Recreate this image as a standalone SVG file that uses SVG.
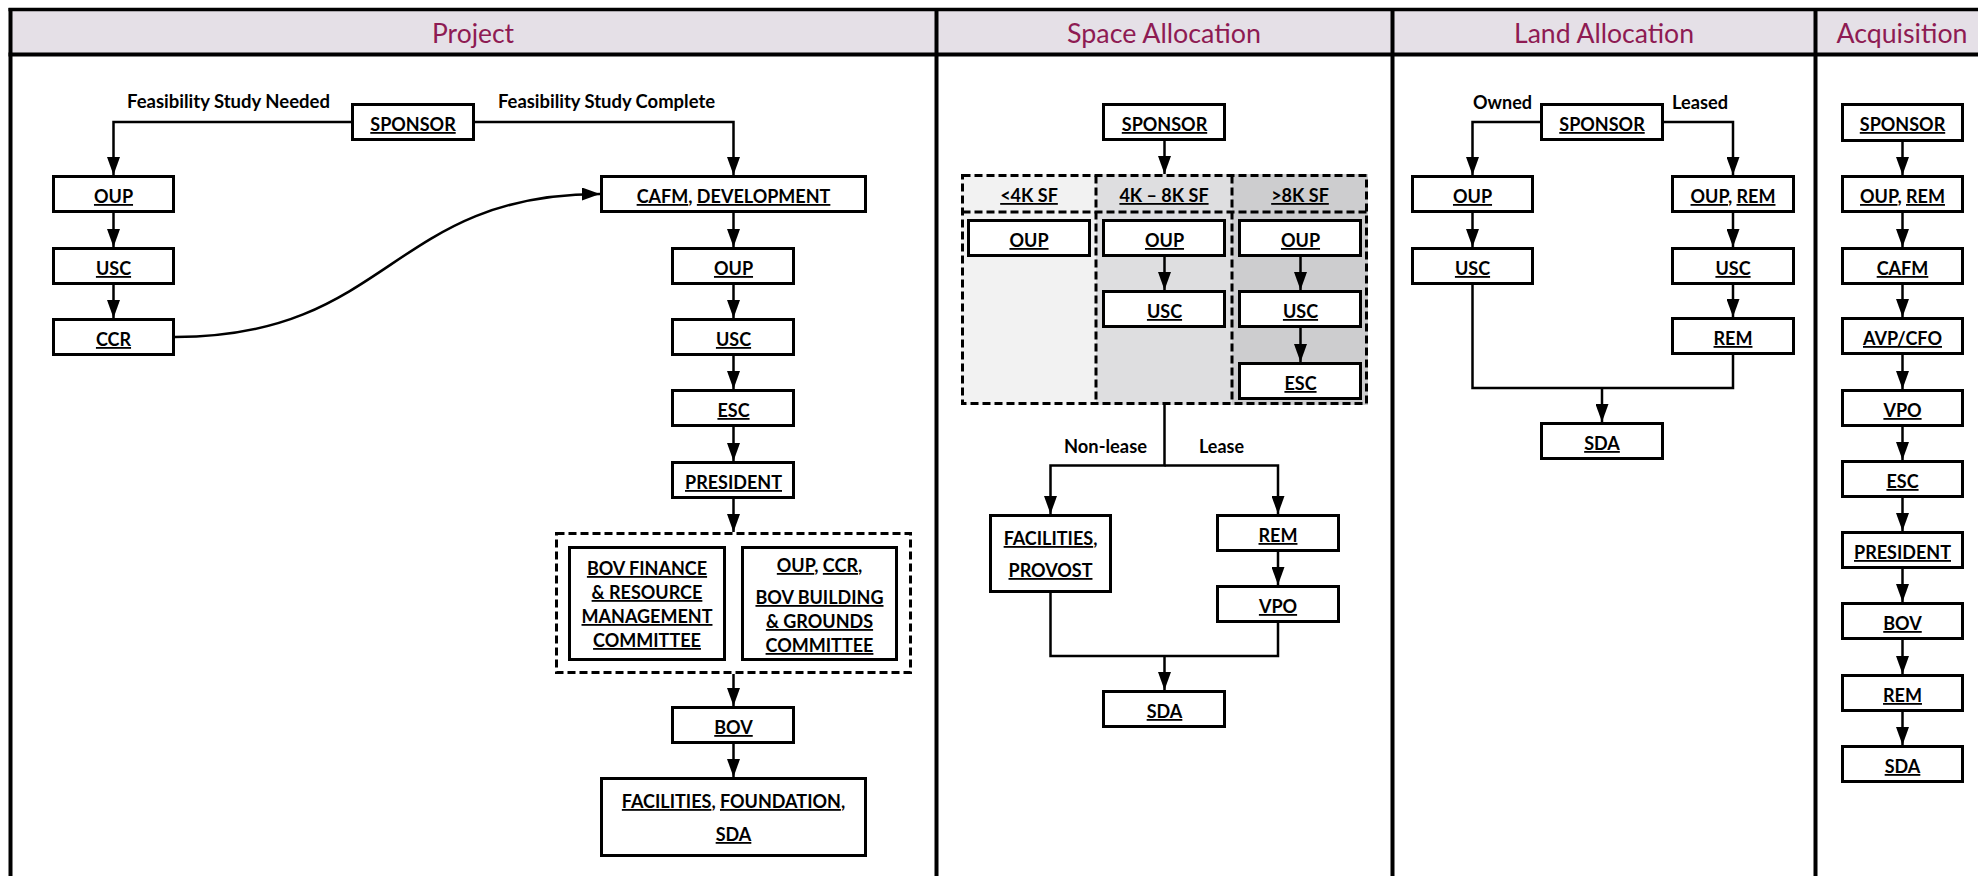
<svg xmlns="http://www.w3.org/2000/svg" width="1978" height="876" viewBox="0 0 1978 876">
<style>
.bg{fill:#fff}
.hdr{fill:#E5E0E7}
.frame{stroke:#000;stroke-width:4;fill:none}
.box{fill:#fff;stroke:#000;stroke-width:3}
.dash{fill:none;stroke:#000;stroke-width:3;stroke-dasharray:8 4}
.c{fill:none;stroke:#000;stroke-width:2.5}
.t{font-family:Lato,'Liberation Sans',sans-serif;font-weight:700;font-size:18px;text-anchor:middle;fill:#000}
.u{text-decoration:underline}
.lbl{font-family:Lato,'Liberation Sans',sans-serif;font-weight:700;font-size:18px;text-anchor:middle;fill:#000}
.ttl{font-family:Lato,'Liberation Sans',sans-serif;font-size:26px;text-anchor:middle;fill:#8E1B53}
</style>
<defs>
<marker id="ah" viewBox="0 0 18 13" refX="18" refY="6.5" markerWidth="18" markerHeight="13" markerUnits="userSpaceOnUse" orient="auto">
<path d="M0,0 L18,6.5 L0,13 z" fill="#000"/>
</marker>
</defs>
<rect class="bg" x="0" y="0" width="1978" height="876"/>
<g id="frame">
<rect class="hdr" x="10" y="10" width="1968" height="44"/>
<line class="frame" x1="8.5" y1="9.5" x2="1978" y2="9.5" style="stroke-width:3.5"/>
<line class="frame" x1="8.5" y1="54.5" x2="1978" y2="54.5"/>
<line class="frame" x1="10.5" y1="8" x2="10.5" y2="876"/>
<line class="frame" x1="936.5" y1="8" x2="936.5" y2="876"/>
<line class="frame" x1="1392.5" y1="8" x2="1392.5" y2="876"/>
<line class="frame" x1="1815.5" y1="8" x2="1815.5" y2="876"/>
<text class="ttl" x="473" y="43" textLength="82" lengthAdjust="spacingAndGlyphs">Project</text>
<text class="ttl" x="1164" y="43" textLength="194" lengthAdjust="spacingAndGlyphs">Space Allocation</text>
<text class="ttl" x="1604" y="43" textLength="180" lengthAdjust="spacingAndGlyphs">Land Allocation</text>
<text class="ttl" x="1902" y="43" textLength="131" lengthAdjust="spacingAndGlyphs">Acquisition</text>
</g>
<g id="space-bands">
<rect x="961" y="174" width="135" height="231" fill="#F2F2F2"/>
<rect x="1096" y="174" width="136" height="231" fill="#DEDEE0"/>
<rect x="1232" y="174" width="136" height="231" fill="#CDCDCF"/>
<rect class="dash" x="962.5" y="175.5" width="404" height="228"/>
<line class="dash" x1="962.5" y1="212" x2="1366.5" y2="212"/>
<line class="dash" x1="1096" y1="175.5" x2="1096" y2="403.5"/>
<line class="dash" x1="1232" y1="175.5" x2="1232" y2="403.5"/>
<text class="t" x="1029" y="202"><tspan class="u">&lt;4K SF</tspan></text>
<text class="t" x="1164" y="202"><tspan class="u">4K – 8K SF</tspan></text>
<text class="t" x="1300" y="202"><tspan class="u">&gt;8K SF</tspan></text>
</g>
<g id="project-group">
<rect class="dash" x="556.5" y="533.5" width="354" height="139"/>
</g>
<g id="connectors">
<path class="c" d="M351,122 H113.5 V175" marker-end="url(#ah)"/>
<path class="c" d="M475,122 H733.5 V175" marker-end="url(#ah)"/>
<path class="c" d="M113.5,213 V247" marker-end="url(#ah)"/>
<path class="c" d="M113.5,285 V318" marker-end="url(#ah)"/>
<path class="c" d="M175,337 C390,337 390,194 600,194" marker-end="url(#ah)"/>
<path class="c" d="M733.5,213 V247" marker-end="url(#ah)"/>
<path class="c" d="M733.5,285 V318" marker-end="url(#ah)"/>
<path class="c" d="M733.5,356 V389" marker-end="url(#ah)"/>
<path class="c" d="M733.5,427 V461" marker-end="url(#ah)"/>
<path class="c" d="M733.5,499 V532" marker-end="url(#ah)"/>
<path class="c" d="M733.5,674 V706" marker-end="url(#ah)"/>
<path class="c" d="M733.5,743 V777" marker-end="url(#ah)"/>
<path class="c" d="M1164.5,141 V174" marker-end="url(#ah)"/>
<path class="c" d="M1164.5,257 V290" marker-end="url(#ah)"/>
<path class="c" d="M1300.5,257 V290" marker-end="url(#ah)"/>
<path class="c" d="M1300.5,328 V362" marker-end="url(#ah)"/>
<path class="c" d="M1164.5,405 V465.5 H1050.5 V514" marker-end="url(#ah)"/>
<path class="c" d="M1164.5,465.5 H1278 V514" marker-end="url(#ah)"/>
<path class="c" d="M1278,552 V585" marker-end="url(#ah)"/>
<path class="c" d="M1050.5,593 V656 H1278 V623"/>
<path class="c" d="M1164.5,656 V690" marker-end="url(#ah)"/>
<path class="c" d="M1540,122 H1472.5 V175" marker-end="url(#ah)"/>
<path class="c" d="M1664,122 H1733 V175" marker-end="url(#ah)"/>
<path class="c" d="M1472.5,213 V247" marker-end="url(#ah)"/>
<path class="c" d="M1733,213 V247" marker-end="url(#ah)"/>
<path class="c" d="M1733,284 V317" marker-end="url(#ah)"/>
<path class="c" d="M1472.5,284 V388 H1733 V355"/>
<path class="c" d="M1602,388 V422" marker-end="url(#ah)"/>
<path class="c" d="M1902.5,142 V175" marker-end="url(#ah)"/>
<path class="c" d="M1902.5,213 V247" marker-end="url(#ah)"/>
<path class="c" d="M1902.5,284 V317" marker-end="url(#ah)"/>
<path class="c" d="M1902.5,355 V389" marker-end="url(#ah)"/>
<path class="c" d="M1902.5,427 V460" marker-end="url(#ah)"/>
<path class="c" d="M1902.5,498 V531" marker-end="url(#ah)"/>
<path class="c" d="M1902.5,569 V602" marker-end="url(#ah)"/>
<path class="c" d="M1902.5,640 V674" marker-end="url(#ah)"/>
<path class="c" d="M1902.5,712 V745" marker-end="url(#ah)"/>
</g>
<g id="labels">
<text class="lbl" x="228.5" y="108" textLength="203" lengthAdjust="spacingAndGlyphs">Feasibility Study Needed</text>
<text class="lbl" x="606.5" y="108" textLength="217" lengthAdjust="spacingAndGlyphs">Feasibility Study Complete</text>
<text class="lbl" x="1105.5" y="453" textLength="83" lengthAdjust="spacingAndGlyphs">Non-lease</text>
<text class="lbl" x="1221.5" y="453" textLength="45" lengthAdjust="spacingAndGlyphs">Lease</text>
<text class="lbl" x="1502.5" y="109" textLength="59" lengthAdjust="spacingAndGlyphs">Owned</text>
<text class="lbl" x="1700" y="109" textLength="56" lengthAdjust="spacingAndGlyphs">Leased</text>
</g>
<!-- Project -->
<g id="p-sponsor"><rect class="box" x="352.5" y="104.5" width="121" height="35"/><text class="t" x="413" y="131"><tspan class="u">SPONSOR</tspan></text></g>
<g id="p-oup-l"><rect class="box" x="53.5" y="176.5" width="120" height="35"/><text class="t" x="113.5" y="203"><tspan class="u">OUP</tspan></text></g>
<g id="p-usc-l"><rect class="box" x="53.5" y="248.5" width="120" height="35"/><text class="t" x="113.5" y="275"><tspan class="u">USC</tspan></text></g>
<g id="p-ccr"><rect class="box" x="53.5" y="319.5" width="120" height="35"/><text class="t" x="113.5" y="346"><tspan class="u">CCR</tspan></text></g>
<g id="p-cafm"><rect class="box" x="601.5" y="176.5" width="264" height="35"/><text class="t" x="733.5" y="203"><tspan class="u">CAFM</tspan>, <tspan class="u">DEVELOPMENT</tspan></text></g>
<g id="p-oup-r"><rect class="box" x="672.5" y="248.5" width="121" height="35"/><text class="t" x="733.5" y="275"><tspan class="u">OUP</tspan></text></g>
<g id="p-usc-r"><rect class="box" x="672.5" y="319.5" width="121" height="35"/><text class="t" x="733.5" y="346"><tspan class="u">USC</tspan></text></g>
<g id="p-esc"><rect class="box" x="672.5" y="390.5" width="121" height="35"/><text class="t" x="733.5" y="417"><tspan class="u">ESC</tspan></text></g>
<g id="p-president"><rect class="box" x="672.5" y="462.5" width="121" height="35"/><text class="t" x="733.5" y="489"><tspan class="u">PRESIDENT</tspan></text></g>
<g id="p-bov-finance"><rect class="box" x="569.5" y="547.5" width="155" height="112"/>
<text class="t" x="647" y="575"><tspan class="u">BOV FINANCE </tspan></text>
<text class="t" x="647" y="599"><tspan class="u">&amp; RESOURCE </tspan></text>
<text class="t" x="647" y="623"><tspan class="u">MANAGEMENT </tspan></text>
<text class="t" x="647" y="647"><tspan class="u">COMMITTEE</tspan></text></g>
<g id="p-bov-building"><rect class="box" x="742.5" y="547.5" width="154" height="112"/>
<text class="t" x="819.5" y="572"><tspan class="u">OUP</tspan>, <tspan class="u">CCR</tspan>,</text>
<text class="t" x="819.5" y="604"><tspan class="u">BOV BUILDING </tspan></text>
<text class="t" x="819.5" y="628"><tspan class="u">&amp; GROUNDS </tspan></text>
<text class="t" x="819.5" y="652"><tspan class="u">COMMITTEE</tspan></text></g>
<g id="p-bov"><rect class="box" x="672.5" y="707.5" width="121" height="35"/><text class="t" x="733.5" y="734"><tspan class="u">BOV</tspan></text></g>
<g id="p-facilities"><rect class="box" x="601.5" y="778.5" width="264" height="77"/>
<text class="t" x="733.5" y="808"><tspan class="u">FACILITIES</tspan>, <tspan class="u">FOUNDATION</tspan>,</text>
<text class="t" x="733.5" y="841"><tspan class="u">SDA</tspan></text></g>
<!-- Space -->
<g id="s-sponsor"><rect class="box" x="1103.5" y="104.5" width="121" height="35"/><text class="t" x="1164.5" y="131"><tspan class="u">SPONSOR</tspan></text></g>
<g id="s-oup1"><rect class="box" x="968.5" y="220.5" width="121" height="35"/><text class="t" x="1029" y="247"><tspan class="u">OUP</tspan></text></g>
<g id="s-oup2"><rect class="box" x="1103.5" y="220.5" width="121" height="35"/><text class="t" x="1164.5" y="247"><tspan class="u">OUP</tspan></text></g>
<g id="s-oup3"><rect class="box" x="1239.5" y="220.5" width="121" height="35"/><text class="t" x="1300.5" y="247"><tspan class="u">OUP</tspan></text></g>
<g id="s-usc2"><rect class="box" x="1103.5" y="291.5" width="121" height="35"/><text class="t" x="1164.5" y="318"><tspan class="u">USC</tspan></text></g>
<g id="s-usc3"><rect class="box" x="1239.5" y="291.5" width="121" height="35"/><text class="t" x="1300.5" y="318"><tspan class="u">USC</tspan></text></g>
<g id="s-esc3"><rect class="box" x="1239.5" y="363.5" width="121" height="35"/><text class="t" x="1300.5" y="390"><tspan class="u">ESC</tspan></text></g>
<g id="s-facprov"><rect class="box" x="990.5" y="515.5" width="120" height="76"/>
<text class="t" x="1050.5" y="545"><tspan class="u">FACILITIES</tspan>,</text>
<text class="t" x="1050.5" y="577"><tspan class="u">PROVOST</tspan></text></g>
<g id="s-rem"><rect class="box" x="1217.5" y="515.5" width="121" height="35"/><text class="t" x="1278" y="542"><tspan class="u">REM</tspan></text></g>
<g id="s-vpo"><rect class="box" x="1217.5" y="586.5" width="121" height="35"/><text class="t" x="1278" y="613"><tspan class="u">VPO</tspan></text></g>
<g id="s-sda"><rect class="box" x="1103.5" y="691.5" width="121" height="35"/><text class="t" x="1164.5" y="718"><tspan class="u">SDA</tspan></text></g>
<!-- Land -->
<g id="l-sponsor"><rect class="box" x="1541.5" y="104.5" width="121" height="35"/><text class="t" x="1602" y="131"><tspan class="u">SPONSOR</tspan></text></g>
<g id="l-oup"><rect class="box" x="1412.5" y="176.5" width="120" height="35"/><text class="t" x="1472.5" y="203"><tspan class="u">OUP</tspan></text></g>
<g id="l-oup-rem"><rect class="box" x="1672.5" y="176.5" width="121" height="35"/><text class="t" x="1733" y="203"><tspan class="u">OUP</tspan>, <tspan class="u">REM</tspan></text></g>
<g id="l-usc1"><rect class="box" x="1412.5" y="248.5" width="120" height="35"/><text class="t" x="1472.5" y="275"><tspan class="u">USC</tspan></text></g>
<g id="l-usc2"><rect class="box" x="1672.5" y="248.5" width="121" height="35"/><text class="t" x="1733" y="275"><tspan class="u">USC</tspan></text></g>
<g id="l-rem"><rect class="box" x="1672.5" y="318.5" width="121" height="35"/><text class="t" x="1733" y="345"><tspan class="u">REM</tspan></text></g>
<g id="l-sda"><rect class="box" x="1541.5" y="423.5" width="121" height="35"/><text class="t" x="1602" y="450"><tspan class="u">SDA</tspan></text></g>
<!-- Acquisition -->
<g id="a-sponsor"><rect class="box" x="1842.5" y="104.5" width="120" height="36"/><text class="t" x="1902.5" y="131"><tspan class="u">SPONSOR</tspan></text></g>
<g id="a-oup-rem"><rect class="box" x="1842.5" y="176.5" width="120" height="35"/><text class="t" x="1902.5" y="203"><tspan class="u">OUP</tspan>, <tspan class="u">REM</tspan></text></g>
<g id="a-cafm"><rect class="box" x="1842.5" y="248.5" width="120" height="35"/><text class="t" x="1902.5" y="275"><tspan class="u">CAFM</tspan></text></g>
<g id="a-avp"><rect class="box" x="1842.5" y="318.5" width="120" height="35"/><text class="t" x="1902.5" y="345"><tspan class="u">AVP/CFO</tspan></text></g>
<g id="a-vpo"><rect class="box" x="1842.5" y="390.5" width="120" height="35"/><text class="t" x="1902.5" y="417"><tspan class="u">VPO</tspan></text></g>
<g id="a-esc"><rect class="box" x="1842.5" y="461.5" width="120" height="35"/><text class="t" x="1902.5" y="488"><tspan class="u">ESC</tspan></text></g>
<g id="a-president"><rect class="box" x="1842.5" y="532.5" width="120" height="35"/><text class="t" x="1902.5" y="559"><tspan class="u">PRESIDENT</tspan></text></g>
<g id="a-bov"><rect class="box" x="1842.5" y="603.5" width="120" height="35"/><text class="t" x="1902.5" y="630"><tspan class="u">BOV</tspan></text></g>
<g id="a-rem"><rect class="box" x="1842.5" y="675.5" width="120" height="35"/><text class="t" x="1902.5" y="702"><tspan class="u">REM</tspan></text></g>
<g id="a-sda"><rect class="box" x="1842.5" y="746.5" width="120" height="35"/><text class="t" x="1902.5" y="773"><tspan class="u">SDA</tspan></text></g>
</svg>
